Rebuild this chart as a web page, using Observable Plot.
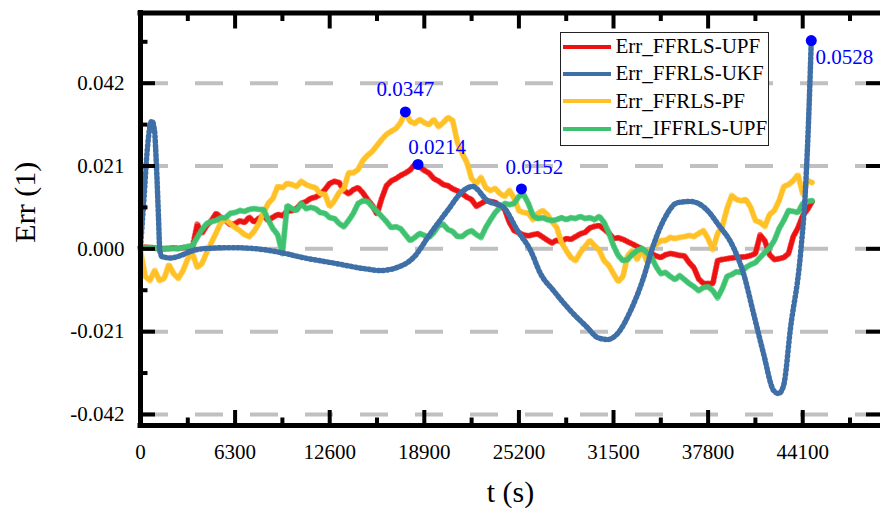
<!DOCTYPE html>
<html>
<head>
<meta charset="utf-8">
<script src="https://cdn.jsdelivr.net/npm/d3@7"></script>
<script src="https://cdn.jsdelivr.net/npm/@observablehq/plot@0.6"></script>
<style>
  html, body { margin: 0; padding: 0; background: #fff; overflow: hidden; }
  #chart { position: relative; width: 880px; height: 513px; font-family: "Liberation Serif", "Times New Roman", serif; }
  #legend {
    position: absolute; left: 560px; top: 32px; box-sizing: border-box;
    width: 209px; height: 114px; border: 1.5px solid #222; background: #fff;
    padding: 0 0 0 1.5px; font: 21px "Liberation Serif", "Times New Roman", serif; color: #000;
  }
  #legend .row { height: 27.3px; display: flex; align-items: center; white-space: nowrap; }
  #legend .sw { width: 48px; height: 4px; margin-right: 5px; flex: none; }
</style>
</head>
<body>
<div id="chart"></div>
<script>
// ---- data -------------------------------------------------------------
// sampling instants (s) shared by the three noisy estimators
const tGrid = [0, 315, 630, 945, 1260, 1575, 1890, 2205, 2520, 2835,
  3150, 3465, 3780, 4095, 4410, 4725, 5040, 5355, 5670, 5985,
  6300, 6615, 6930, 7245, 7560, 7875, 8190, 8505, 8820, 9135,
  9450, 9765, 10080, 10395, 10710, 11025, 11340, 11655, 11970, 12285,
  12600, 12915, 13230, 13545, 13860, 14175, 14490, 14805, 15120, 15435,
  15750, 16065, 16380, 16695, 17010, 17325, 17640, 17955, 18270, 18585,
  18900, 19215, 19530, 19845, 20160, 20475, 20790, 21105, 21420, 21735,
  22050, 22365, 22680, 22995, 23310, 23625, 23940, 24255, 24570, 24885,
  25200, 25515, 25830, 26145, 26460, 26775, 27090, 27405, 27720, 28035,
  28350, 28665, 28980, 29295, 29610, 29925, 30240, 30555, 30870, 31185,
  31500, 31815, 32130, 32445, 32760, 33075, 33390, 33705, 34020, 34335,
  34650, 34965, 35280, 35595, 35910, 36225, 36540, 36855, 37170, 37485,
  37800, 38115, 38430, 38745, 39060, 39375, 39690, 40005, 40320, 40635,
  40950, 41265, 41580, 41895, 42210, 42525, 42840, 43155, 43470, 43785,
  44100, 44415, 44730];

const errFFRLS_UPF = [0.0003, 0.0004, 0.0003, 0.0002, 0.0001, 0.0000, 0.0001, 0.0002, 0.0001, 0.0003,
  0.0003, 0.0004, 0.0062, 0.0040, 0.0059, 0.0072, 0.0090, 0.0079, 0.0072, 0.0061,
  0.0064, 0.0071, 0.0067, 0.0080, 0.0068, 0.0077, 0.0084, 0.0072, 0.0080, 0.0087,
  0.0084, 0.0095, 0.0097, 0.0102, 0.0115, 0.0120, 0.0128, 0.0131, 0.0138, 0.0150,
  0.0166, 0.0171, 0.0168, 0.0148, 0.0140, 0.0150, 0.0155, 0.0142, 0.0125, 0.0110,
  0.0088, 0.0128, 0.0160, 0.0172, 0.0178, 0.0186, 0.0192, 0.0200, 0.0214, 0.0208,
  0.0199, 0.0192, 0.0178, 0.0172, 0.0163, 0.0160, 0.0152, 0.0147, 0.0140, 0.0131,
  0.0125, 0.0108, 0.0115, 0.0122, 0.0120, 0.0118, 0.0108, 0.0100, 0.0067, 0.0046,
  0.0041, 0.0035, 0.0033, 0.0036, 0.0038, 0.0030, 0.0022, 0.0015, 0.0022, 0.0019,
  0.0026, 0.0024, 0.0031, 0.0038, 0.0042, 0.0053, 0.0057, 0.0059, 0.0050, 0.0040,
  0.0026, 0.0028, 0.0024, 0.0018, 0.0012, 0.0006, 0.0000, -0.0010, -0.0012, -0.0018,
  -0.0022, -0.0015, -0.0012, -0.0014, -0.0017, -0.0018, -0.0035, -0.0048, -0.0076, -0.0088,
  -0.0088, -0.0088, -0.0030, -0.0027, -0.0025, -0.0023, -0.0022, -0.0021, -0.0020, -0.0017,
  -0.0012, 0.0035, 0.0020, -0.0015, -0.0027, -0.0025, -0.0022, -0.0012, 0.0031, 0.0053,
  0.0084, 0.0100, 0.0120];

const errFFRLS_PF = [-0.0004, -0.0070, -0.0080, -0.0055, -0.0080, -0.0075, -0.0040, -0.0063, -0.0075, -0.0055,
  -0.0025, -0.0012, -0.0047, -0.0037, -0.0009, 0.0016, 0.0041, 0.0067, 0.0074, 0.0064,
  0.0054, 0.0046, 0.0036, 0.0031, 0.0044, 0.0064, 0.0092, 0.0115, 0.0128, 0.0158,
  0.0155, 0.0166, 0.0163, 0.0158, 0.0171, 0.0163, 0.0158, 0.0155, 0.0140, 0.0138,
  0.0107, 0.0122, 0.0143, 0.0153, 0.0193, 0.0193, 0.0201, 0.0224, 0.0237, 0.0247,
  0.0262, 0.0277, 0.0290, 0.0298, 0.0305, 0.0320, 0.0347, 0.0323, 0.0318, 0.0328,
  0.0320, 0.0315, 0.0328, 0.0310, 0.0320, 0.0333, 0.0325, 0.0270, 0.0242, 0.0219,
  0.0178, 0.0166, 0.0181, 0.0155, 0.0148, 0.0153, 0.0140, 0.0133, 0.0148, 0.0128,
  0.0097, 0.0092, 0.0090, 0.0074, 0.0090, 0.0097, 0.0087, 0.0069, 0.0054, 0.0016,
  -0.0004, -0.0022, -0.0030, -0.0009, 0.0006, 0.0021, 0.0008, -0.0004, -0.0030, -0.0042,
  -0.0063, -0.0083, -0.0070, -0.0017, -0.0004, -0.0027, 0.0001, -0.0030, 0.0001, 0.0011,
  0.0021, 0.0021, 0.0029, 0.0026, 0.0029, 0.0031, 0.0034, 0.0031, 0.0039, 0.0046,
  0.0026, -0.0002, 0.0039, 0.0057, 0.0102, 0.0135, 0.0125, 0.0122, 0.0125, 0.0105,
  0.0072, 0.0067, 0.0057, 0.0087, 0.0097, 0.0122, 0.0158, 0.0163, 0.0173, 0.0188,
  0.0140, 0.0173, 0.0168];

const errIFFRLS_UPF = [0.0003, 0.0003, 0.0003, 0.0002, 0.0001, 0.0001, 0.0001, 0.0001, 0.0001, 0.0003,
  0.0006, 0.0008, 0.0029, 0.0049, 0.0064, 0.0069, 0.0072, 0.0079, 0.0079, 0.0090,
  0.0092, 0.0097, 0.0095, 0.0100, 0.0102, 0.0100, 0.0100, 0.0074, 0.0051, 0.0036,
  -0.0012, 0.0110, 0.0102, 0.0097, 0.0115, 0.0102, 0.0105, 0.0102, 0.0092, 0.0090,
  0.0079, 0.0077, 0.0064, 0.0056, 0.0072, 0.0090, 0.0115, 0.0122, 0.0120, 0.0107,
  0.0095, 0.0082, 0.0069, 0.0054, 0.0056, 0.0051, 0.0036, 0.0021, 0.0029, 0.0039,
  0.0034, 0.0029, 0.0041, 0.0059, 0.0062, 0.0049, 0.0044, 0.0031, 0.0031, 0.0041,
  0.0046, 0.0036, 0.0029, 0.0054, 0.0074, 0.0092, 0.0105, 0.0115, 0.0112, 0.0115,
  0.0133, 0.0138, 0.0115, 0.0084, 0.0077, 0.0079, 0.0074, 0.0072, 0.0074, 0.0079,
  0.0074, 0.0079, 0.0077, 0.0082, 0.0077, 0.0079, 0.0074, 0.0082, 0.0067, 0.0041,
  0.0008, -0.0017, -0.0030, -0.0027, -0.0014, -0.0004, 0.0001, -0.0009, -0.0020, -0.0045,
  -0.0063, -0.0060, -0.0070, -0.0078, -0.0068, -0.0078, -0.0088, -0.0096, -0.0106, -0.0098,
  -0.0096, -0.0106, -0.0124, -0.0101, -0.0070, -0.0065, -0.0058, -0.0060, -0.0047, -0.0040,
  -0.0035, -0.0022, -0.0009, 0.0003, 0.0021, 0.0051, 0.0072, 0.0097, 0.0095, 0.0092,
  0.0115, 0.0120, 0.0122];

// UKF error: smooth trace, sampled where its shape changes
const tUKF = [0, 220, 446, 619, 753, 932, 1066, 1199, 1285, 1445,
  1998, 2444, 2864, 3530, 4462, 5994, 7459, 8525, 9657, 10789,
  12987, 14852, 15984, 17116, 18182, 19314, 20446, 21512, 22111, 23110,
  24176, 25108, 25974, 26640, 27506, 28638, 29770, 30436, 31102, 31768,
  32634, 33500, 34100, 34900, 35764, 36630, 37762, 38428, 39494, 40160,
  40826, 41492, 42158, 42491, 42824, 43290, 43956, 44289, 44489, 44670];
const errFFRLS_UKF = [0.0004, 0.0122, 0.0249, 0.0308, 0.0324, 0.0300, 0.0207, 0.0080, -0.0004, -0.0020,
  -0.0023, -0.0020, -0.0014, -0.0004, 0.0001, 0.0003, 0.0001, -0.0004, -0.0012, -0.0022,
  -0.0037, -0.0050, -0.0055, -0.0047, -0.0022, 0.0039, 0.0097, 0.0148, 0.0158, 0.0122,
  0.0105, 0.0046, -0.0004, -0.0063, -0.0106, -0.0157, -0.0200, -0.0225, -0.0230, -0.0215,
  -0.0157, -0.0073, 0.0003, 0.0077, 0.0117, 0.0120, 0.0097, 0.0064, 0.0003, -0.0063,
  -0.0164, -0.0266, -0.0359, -0.0367, -0.0347, -0.0200, -0.0012, 0.0155, 0.0325, 0.0528];

// marked extreme points
const peakTimes = [17640, 18480, 25370, 44670];
const peakValues = [0.0347, 0.0214, 0.0152, 0.0528];

// legend
const seriesNames = ["Err_FFRLS-UPF", "Err_FFRLS-UKF", "Err_FFRLS-PF", "Err_IFFRLS-UPF"];
const seriesColors = ["#ee1111", "#3f6fa7", "#ffc125", "#3fc26f"];

// axes
const xMajorTicks = [0, 6300, 12600, 18900, 25200, 31500, 37800, 44100];
const xMinorTicks = [3150, 9450, 15750, 22050, 28350, 34650, 40950, 47250];
const yMajorTicks = [-0.042, -0.021, 0, 0.021, 0.042];
const yMinorTicks = [-0.0315, -0.0105, 0.0105, 0.0315, 0.0525];
const xLabel = "t (s)";
const yLabel = "Err (1)";

// ---- layout -----------------------------------------------------------
const xDomain = [0, 49280];
const yDomain = [-0.0448, 0.0598];
const labelOffsets = [[0, -23], [19, -17], [13, -22], [33, 17]];

const toRows = (ts, vs) => ts.map((t, i) => ({t, v: vs[i]}));
const upf = toRows(tGrid, errFFRLS_UPF);
const pf = toRows(tGrid, errFFRLS_PF);
const iupf = toRows(tGrid, errIFFRLS_UPF);
const ukf = toRows(tUKF, errFFRLS_UKF);
const peaks = toRows(peakTimes, peakValues);

// a noisy trace: solid core plus a short-dash halo for the ragged edge
const noisyLine = (rows, color) => [
  Plot.line(rows, {x: "t", y: "v", stroke: color, strokeWidth: 4.5, strokeLinejoin: "miter"}),
  Plot.line(rows, {x: "t", y: "v", stroke: color, strokeWidth: 6, strokeDasharray: "1.2,2.4", strokeOpacity: 0.7})
];

const fmtY = d => d.toFixed(3);
const none = () => "";

const chart = Plot.plot({
  width: 880,
  height: 513,
  marginLeft: 140,
  marginRight: 0,
  marginTop: 12.5,
  marginBottom: 88,
  x: {domain: xDomain, label: null},
  y: {domain: yDomain, label: null},
  style: {fontFamily: "'Liberation Serif', 'Times New Roman', serif", color: "#000", background: "#fff", overflow: "visible"},
  marks: [
    // dashed horizontal grid
    Plot.ruleY(yMajorTicks, {stroke: "#c0c0c0", strokeWidth: 4, strokeDasharray: "28,27"}),

    // estimator errors
    ...noisyLine(upf, seriesColors[0]),
    ...noisyLine(pf, seriesColors[2]),
    ...noisyLine(iupf, seriesColors[3]),
    // UKF: thin trace with bead-like sample markers along it
    Plot.line(ukf, {x: "t", y: "v", stroke: "#4a7bb2", strokeWidth: 2.8, curve: "monotone-x"}),
    Plot.line(ukf, {x: "t", y: "v", stroke: seriesColors[1], strokeWidth: 5.5, strokeDasharray: "1.6,3", curve: "monotone-x"}),

    // marked extremes
    Plot.dot(peaks, {x: "t", y: "v", r: 5.5, fill: "#0000ff"}),
    ...peaks.map((d, i) => Plot.text([d], {
      x: "t", y: "v", text: p => p.v.toFixed(4), fill: "#0000ff", fontSize: 21,
      textAnchor: "middle", lineAnchor: "middle", dx: labelOffsets[i][0], dy: labelOffsets[i][1]
    })),

    // frame
    Plot.ruleX([xDomain[0]], {stroke: "#000", strokeWidth: 5, strokeLinecap: "square"}),
    Plot.ruleY(yDomain, {stroke: "#000", strokeWidth: 5, strokeLinecap: "square"}),

    // inward ticks on all visible sides
    Plot.axisY(yMajorTicks, {anchor: "left", tickSize: -15, strokeWidth: 4, tickFormat: none, label: null}),
    Plot.axisY(yMinorTicks, {anchor: "left", tickSize: -7.5, strokeWidth: 4, tickFormat: none, label: null}),
    Plot.axisY(yMajorTicks, {anchor: "right", tickSize: -15, strokeWidth: 4, tickFormat: none, label: null}),
    Plot.axisX(xMajorTicks, {anchor: "bottom", tickSize: -15, strokeWidth: 4, tickFormat: none, label: null}),
    Plot.axisX(xMinorTicks, {anchor: "bottom", tickSize: -7.5, strokeWidth: 4, tickFormat: none, label: null}),
    Plot.axisX(xMajorTicks, {anchor: "top", tickSize: -15, strokeWidth: 4, tickFormat: none, label: null}),
    Plot.axisX(xMinorTicks, {anchor: "top", tickSize: -7.5, strokeWidth: 4, tickFormat: none, label: null}),

    // tick labels
    Plot.axisY(yMajorTicks, {anchor: "left", tickSize: 0, tickPadding: 16, tickFormat: fmtY, fontSize: 21, label: null}),
    Plot.axisX(xMajorTicks, {anchor: "bottom", tickSize: 0, tickPadding: 19, tickFormat: d => String(d), fontSize: 21, label: null}),

    // axis titles
    Plot.text([yLabel], {text: d => d, frameAnchor: "left", rotate: -90, dx: -115, dy: -17, fontSize: 30, textAnchor: "middle", lineAnchor: "middle"}),
    Plot.text([xLabel], {text: d => d, frameAnchor: "bottom", dy: 67, fontSize: 30, textAnchor: "middle", lineAnchor: "middle"})
  ]
});

const host = document.getElementById("chart");
host.appendChild(chart);

// legend box inside the plot area
const legend = document.createElement("div");
legend.id = "legend";
seriesNames.forEach((name, i) => {
  const row = document.createElement("div");
  row.className = "row";
  const sw = document.createElement("span");
  sw.className = "sw";
  sw.style.background = seriesColors[i];
  row.appendChild(sw);
  row.appendChild(document.createTextNode(name));
  legend.appendChild(row);
});
host.appendChild(legend);
</script>
</body>
</html>
